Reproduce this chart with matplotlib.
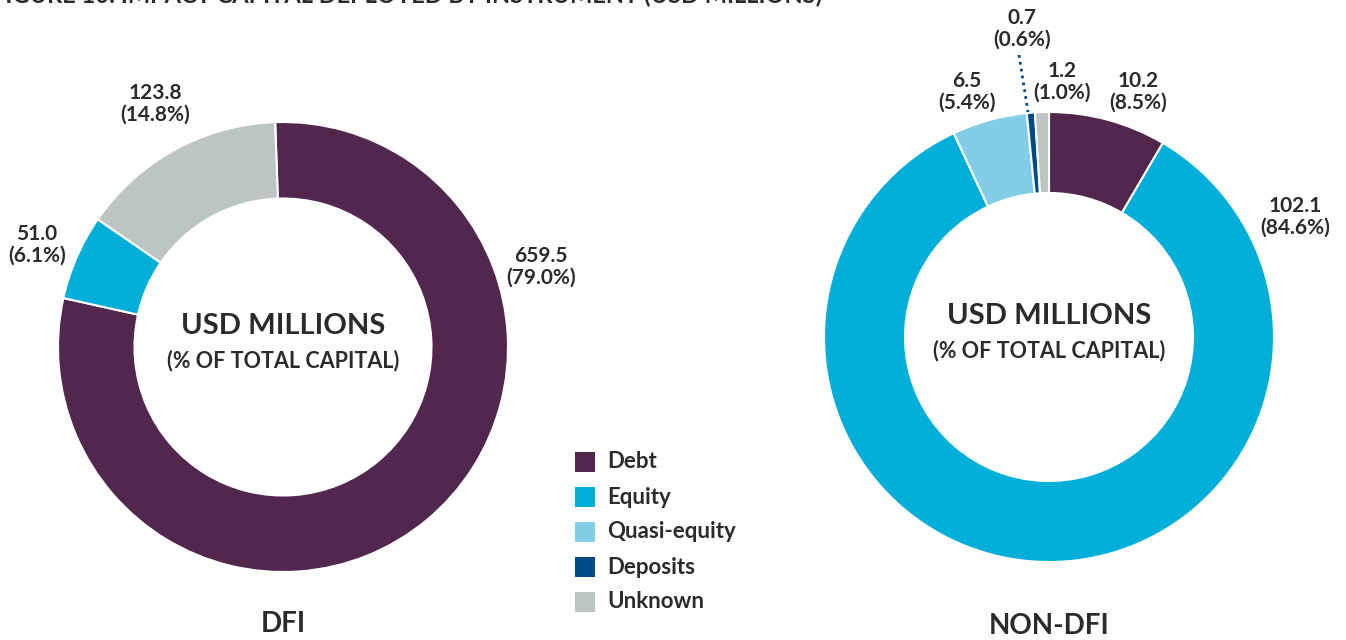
import matplotlib
matplotlib.use('Agg')
import matplotlib.pyplot as plt
from matplotlib.patches import Rectangle

plt.rcParams['font.family'] = ['Lato', 'DejaVu Sans']

# Data
categories = ['Debt', 'Equity', 'Quasi-equity', 'Deposits', 'Unknown']
colors = ['#52274d', '#00aeda', '#84cde8', '#004b87', '#bcc5c3']

dfi_values = [659.5, 51.0, 0.0, 0.0, 123.8]
dfi_pct = [79.0, 6.1, 0.0, 0.0, 14.8]

nondfi_values = [10.2, 102.1, 6.5, 0.7, 1.2]
nondfi_pct = [8.5, 84.6, 5.4, 0.6, 1.0]

W, H = 1346, 640
fig = plt.figure(figsize=(W / 100, H / 100), dpi=100)
ax = fig.add_axes([0, 0, 1, 1])
ax.set_xlim(0, W)
ax.set_ylim(0, H)
ax.set_aspect('equal')
ax.axis('off')

txt = '#2b2b2b'

def py(y):
    # pixel row (from top) -> data y
    return H - y

def donut(vals, center, r, width, start):
    keep = [(v, c) for v, c in zip(vals, colors) if v > 0]
    ax.pie([k[0] for k in keep], colors=[k[1] for k in keep], center=center,
           radius=r, startangle=start, counterclock=False,
           wedgeprops=dict(width=width, edgecolor='white', linewidth=1.5),
           frame=True)

# DFI donut
c1 = (283, py(347))
donut(dfi_values, c1, 225, 225 * 0.34, 92)
# NON-DFI donut
c2 = (1049, py(337))
donut(nondfi_values, c2, 225, 225 * 0.36, 90)

ax.set_xlim(0, W)
ax.set_ylim(0, H)
ax.axis('off')

def lab(i, x, y, vals, pcts):
    ax.text(x, py(y), f'{vals[i]:.1f}\n({pcts[i]:.1f}%)', ha='center', va='center',
            fontsize=15, fontweight='bold', color=txt, linespacing=1.1)

# DFI labels
lab(4, 155, 104, dfi_values, dfi_pct)
lab(1, 37, 245, dfi_values, dfi_pct)
lab(0, 541, 267, dfi_values, dfi_pct)

# NON-DFI labels
lab(3, 1022, 29, nondfi_values, nondfi_pct)
lab(2, 967, 92, nondfi_values, nondfi_pct)
lab(4, 1062, 82, nondfi_values, nondfi_pct)
lab(0, 1138, 92, nondfi_values, nondfi_pct)
lab(1, 1295, 217, nondfi_values, nondfi_pct)
ax.plot([1019, 1028], [py(55), py(112)], color=colors[3], linestyle=(0, (1, 1.5)),
        linewidth=2)

# centre texts
for (cx, cy) in [c1, c2]:
    ax.text(cx, cy + 21, 'USD MILLIONS', ha='center', va='center',
            fontsize=21, fontweight='bold', color=txt)
    ax.text(cx, cy - 14, '(% OF TOTAL CAPITAL)', ha='center', va='center',
            fontsize=15.5, fontweight='bold', color=txt)

ax.text(283, py(624), 'DFI', ha='center', va='center', fontsize=20,
        fontweight='bold', color=txt)
ax.text(1049, py(626), 'NON-DFI', ha='center', va='center', fontsize=20,
        fontweight='bold', color=txt)

# legend
for k, (name, col) in enumerate(zip(categories, colors)):
    y = 462 + k * 35
    ax.add_patch(Rectangle((575, py(y) - 10), 20, 20, facecolor=col, edgecolor='none'))
    ax.text(607, py(y), name, ha='left', va='center', fontsize=16,
            fontweight='bold', color=txt)

# title, cut off at the top edge as in the source
ax.text(-8, py(3), 'FIGURE 10: IMPACT CAPITAL DEPLOYED BY INSTRUMENT (USD MILLIONS)',
        ha='left', va='baseline', fontsize=17, fontweight='bold', color=txt,
        clip_on=False)

fig.savefig('out.png', dpi=100)
